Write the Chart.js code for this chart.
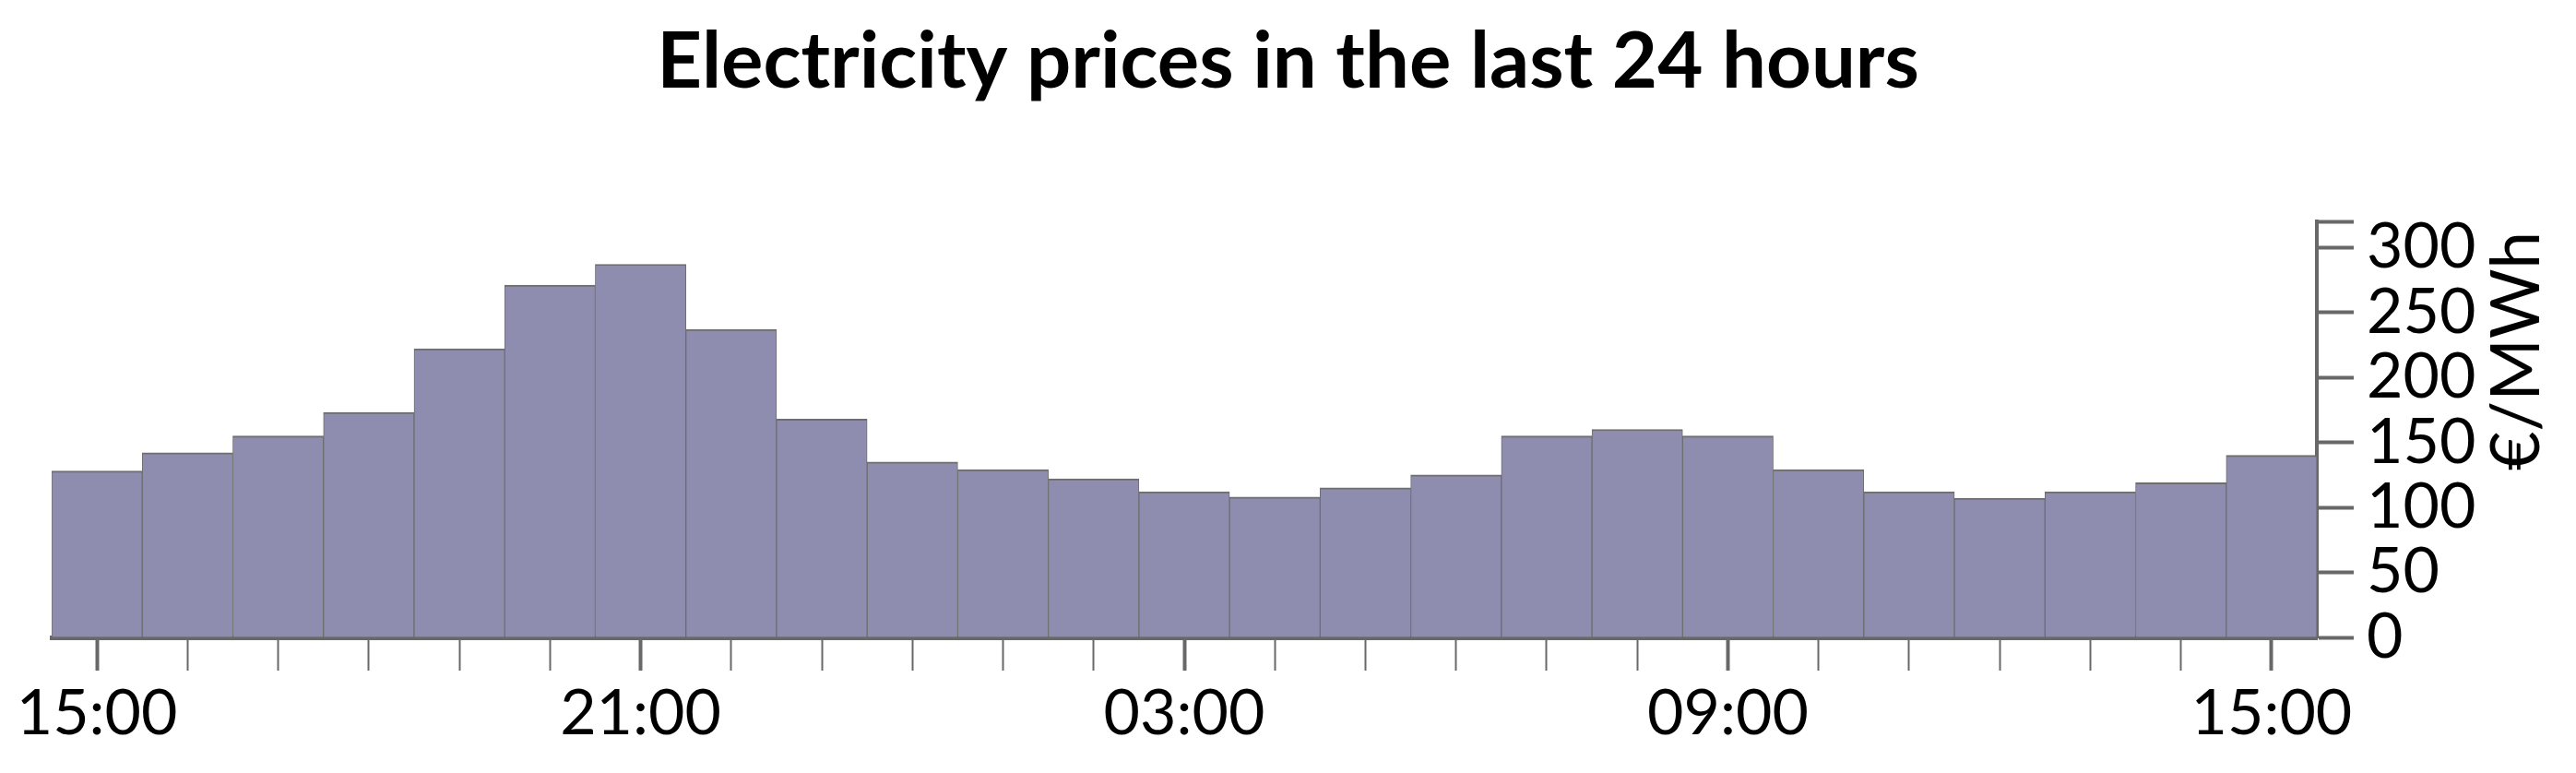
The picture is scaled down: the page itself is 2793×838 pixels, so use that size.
<!DOCTYPE html>
<html>
<head>
<meta charset="utf-8">
<title>Electricity prices in the last 24 hours</title>
<script src="https://cdn.jsdelivr.net/npm/chart.js@4.4.1/dist/chart.umd.min.js"></script>
<style>
  html, body { margin: 0; padding: 0; background: #fff; }
  canvas { display: block; }
</style>
</head>
<body>
<canvas id="prices" width="2793" height="838"></canvas>
<script>
const hours = [
  "15:00", "16:00", "17:00", "18:00", "19:00", "20:00", "21:00", "22:00", "23:00",
  "00:00", "01:00", "02:00", "03:00", "04:00", "05:00", "06:00", "07:00", "08:00",
  "09:00", "10:00", "11:00", "12:00", "13:00", "14:00", "15:00"
];
const prices = [
  128, 142, 155, 173, 222, 271, 287, 237, 168,
  135, 129, 122, 112, 108, 115, 125, 155, 160,
  155, 129, 112, 107, 112, 119, 140
];
const priceTicks = [0, 50, 100, 150, 200, 250, 300];
const priceAxisMax = 320;
const labelEvery = 6;
const chartTitle = "Electricity prices in the last 24 hours";
const unitLabel = "€/MWh";

const axisGrey = "#686868";
const fontFamily = "Lato, 'Open Sans', sans-serif";

// unit label on the right, reading bottom to top
// (Chart.js turns a right-hand axis title the other way round)
const unitTitle = {
  id: "unitTitle",
  afterDraw(chart) {
    const ctx = chart.ctx;
    const y = chart.scales.y;
    ctx.save();
    ctx.translate(y.right - 8, (y.top + y.bottom) / 2 - 85);
    ctx.rotate(-Math.PI / 2);
    ctx.font = "73px " + fontFamily;
    ctx.fillStyle = "#000";
    ctx.textAlign = "center";
    ctx.textBaseline = "middle";
    ctx.fillText(unitLabel, 0, 0);
    ctx.restore();
  }
};

const chart = new Chart(document.getElementById("prices"), {
  type: "bar",
  data: {
    labels: hours,
    datasets: [
      {
        label: unitLabel,
        data: prices,
        backgroundColor: "#8e8db0",
        borderColor: "#6e6e6e",
        borderWidth: { top: 2, left: 1, right: 1, bottom: 0 },
        barPercentage: 1,
        categoryPercentage: 1,
      },
    ],
  },
  options: {
    responsive: false,
    animation: false,
    devicePixelRatio: 1,
    layout: { padding: { left: 56, right: 56, top: 0, bottom: 0 } },
    plugins: {
      legend: { display: false },
      tooltip: { enabled: false },
      title: {
        display: true,
        text: chartTitle,
        color: "#000",
        font: { family: fontFamily, size: 85, weight: "bold" },
        padding: { top: 17, bottom: 121 },
      },
    },
    scales: {
      x: {
        offset: true,
        grid: {
          offset: false,
          drawOnChartArea: false,
          tickLength: 36,
          tickColor: axisGrey,
          tickWidth: (ctx) => (ctx.index % labelEvery === 0 ? 4 : 2),
        },
        border: { color: axisGrey, width: 5 },
        ticks: {
          autoSkip: false,
          maxRotation: 0,
          padding: 6,
          color: "#000",
          font: { family: fontFamily, size: 68 },
          callback: (value, index) => (index % labelEvery === 0 ? hours[index] : ""),
        },
        afterFit: (scale) => {
          scale.height = 147;
        },
      },
      y: {
        position: "right",
        min: 0,
        max: priceAxisMax,
        grid: {
          drawOnChartArea: false,
          tickLength: 40,
          tickColor: axisGrey,
          tickWidth: 4,
        },
        border: { color: axisGrey, width: 4 },
        ticks: {
          autoSkip: false,
          padding: 14,
          color: "#000",
          font: { family: fontFamily, size: 68 },
          callback: (value) => (priceTicks.includes(value) ? value : ""),
        },
        afterBuildTicks: (scale) => {
          scale.ticks = priceTicks.concat([priceAxisMax]).map((v) => ({ value: v }));
        },
        afterFit: (scale) => {
          scale.width = 225;
        },
      },
    },
  },
  plugins: [unitTitle],
});
</script>
</body>
</html>
